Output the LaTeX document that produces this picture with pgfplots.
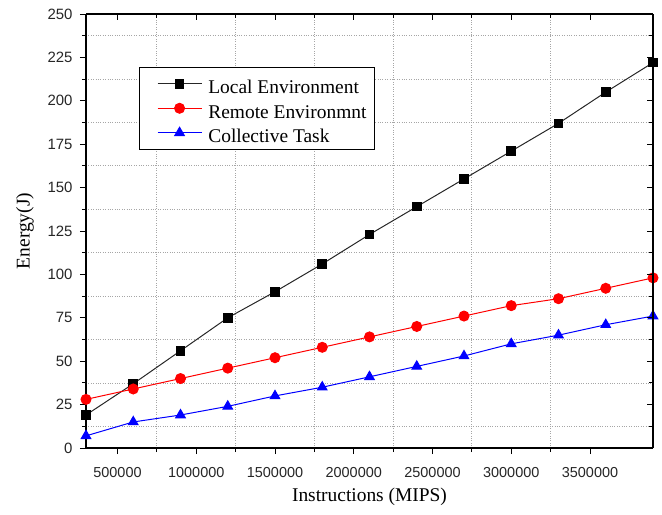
\documentclass[border=0pt]{standalone}
\usepackage{pgfplots}
\pgfplotsset{compat=1.18}
\usepackage{fontspec}
\setmainfont{Liberation Serif}
\newfontfamily\ticksfont{Liberation Sans}
\begin{document}
\begin{tikzpicture}
\pgfplotsset{
  base/.style={
    scale only axis, width=567bp, height=434bp,
    xmin=300000, xmax=3900000, ymin=0, ymax=250,
    xtick={500000,1000000,...,3500000},
    ytick={0,25,...,250},
    minor x tick num=1, minor y tick num=1,
    major tick length=6bp, minor tick length=4bp,
    every tick/.style={black, line width=0.9pt},
    axis line style={black, line width=1.1pt},
    scaled x ticks=false,
  },
}
\begin{axis}[base,
  axis x line*=bottom, axis y line*=left,
  tick align=outside,
  xminorgrids=true, yminorgrids=true,
  minor grid style={gray!70, dotted, line width=0.8pt},
  /pgf/number format/assume math mode=true,
  xticklabel style={font=\ticksfont\fontsize{14.5}{17}\selectfont, /pgf/number format/fixed, /pgf/number format/1000 sep={}, color=black!85, yshift=-10bp},
  yticklabel style={font=\ticksfont\fontsize{15}{17}\selectfont, color=black!85, xshift=-4bp},
  xlabel={Instructions (MIPS)},
  ylabel={Energy(J)},
  label style={font=\fontsize{19.5}{21}\selectfont},
  xlabel style={at={(axis description cs:0.5,-0.1129)}, anchor=center},
  ylabel style={at={(axis description cs:-0.1076,0.5)}, anchor=center},
  legend style={at={(rel axis cs:0.0935,0.8787)}, anchor=north west,
    draw=black, line width=1.3pt, font=\fontsize{19.5}{21}\selectfont,
    inner xsep=7.7bp, inner ysep=5bp, row sep=1.5bp,
    nodes={inner sep=0pt},
    /tikz/every odd column/.append style={column sep=6.3bp},
    /tikz/every even column/.append style={text height=21.5bp, text depth=1.3bp}},
  legend cell align=left,
  legend image code/.code={\path (-9.7bp,0bp); \draw[#1, line width=1pt, mark repeat=2, mark phase=2] plot coordinates {(0bp,0bp)(22bp,0bp)(44bp,0bp)};},
  clip=false,
]
\addplot[black!85, line width=1pt, mark=square*, mark size=4.3bp, mark options={fill=black, draw=black, solid}] coordinates {
(300000,19) (600000,37) (900000,56) (1200000,75) (1500000,90) (1800000,106) (2100000,123) (2400000,139) (2700000,155) (3000000,171) (3300000,187) (3600000,205) (3900000,222)};
\addlegendentry{Local Environment}
\addplot[red, line width=1pt, mark=*, mark size=5bp, mark options={fill=red, draw=red, solid}] coordinates {
(300000,28) (600000,34) (900000,40) (1200000,46) (1500000,52) (1800000,58) (2100000,64) (2400000,70) (2700000,76) (3000000,82) (3300000,86) (3600000,92) (3900000,98)};
\addlegendentry{Remote Environmnt}
\addplot[blue, line width=1pt, mark=triangle*, mark size=5.5bp, mark options={fill=blue, draw=blue, solid}] coordinates {
(300000,7) (600000,15) (900000,19) (1200000,24) (1500000,30) (1800000,35) (2100000,41) (2400000,47) (2700000,53) (3000000,60) (3300000,65) (3600000,71) (3900000,76)};
\addlegendentry{Collective Task}
\end{axis}
\begin{axis}[base,
  axis x line*=top, axis y line*=right,
  tick align=inside,
  xticklabels={}, yticklabels={},
]
\end{axis}
\pgfresetboundingbox
\path (-86bp,-67bp) rectangle (576bp,448bp);
\end{tikzpicture}
\end{document}
